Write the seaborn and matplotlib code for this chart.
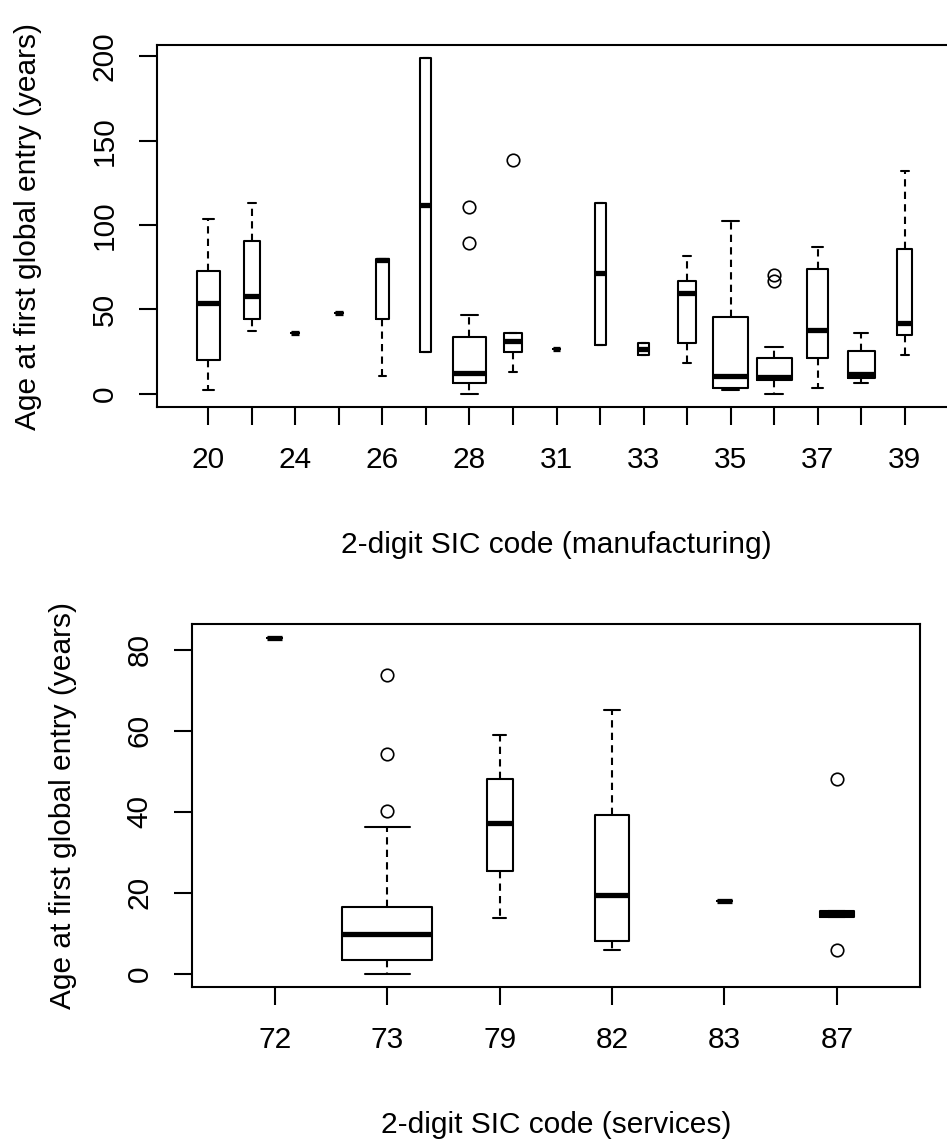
import numpy as np
import matplotlib.pyplot as plt
import matplotlib.transforms as mtransforms
import seaborn as sns

# 制造业 (manufacturing) 两位 SIC 码
mfg_codes = ["20", "22", "24", "25", "26", "27", "28", "30", "31",
             "32", "33", "34", "35", "36", "37", "38", "39"]
mfg_n = [9, 4, 1, 1, 3, 2, 18, 5, 1, 2, 2, 5, 20, 20, 7, 12, 4]
mfg_low = [2.4, 37, 35.7, 47.6, 10.7, 24.8, 0, 13.1, 26.2, 28.6, 22.6, 17.9, 2.4, 0, 3.6, 6, 22.6]
mfg_q1 = [20, 44, 35.7, 47.6, 44, 24.8, 6, 24.8, 26.2, 28.6, 22.6, 29.8, 3.6, 8.3, 21.4, 9.5, 34.5]
mfg_med = [54, 58, 35.7, 47.6, 79, 112, 12.3, 31.3, 26.2, 71.4, 26.2, 59.5, 10.7, 9.9, 38, 11.9, 41.7]
mfg_q3 = [73, 90.5, 35.7, 47.6, 79.8, 198.8, 33.7, 35.7, 26.2, 113, 29.8, 66.7, 45.6, 21.4, 73.8, 25, 85.7]
mfg_high = [103.6, 113, 35.7, 47.6, 79.8, 198.8, 46.4, 35.7, 26.2, 113, 29.8, 81.7, 102.4, 27.4, 86.9, 35.7, 132]
mfg_out = [[], [], [], [], [], [], [110.7, 89.3], [138.3], [], [], [], [], [], [70.4, 67], [], [], []]

# 服务业 (services)
svc_codes = ["72", "73", "79", "82", "83", "87"]
svc_n = [1, 36, 3, 5, 1, 5]
svc_low = [83, 0, 13.9, 6.0, 17.9, 14]
svc_q1 = [83, 3.5, 25.3, 8.0, 17.9, 14]
svc_med = [83, 9.9, 37.3, 19.4, 17.9, 15]
svc_q3 = [83, 16.4, 48.1, 39.2, 17.9, 15.5]
svc_high = [83, 36.2, 59.1, 65.1, 17.9, 15.5]
svc_out = [[], [73.9, 54.2, 40.3], [], [], [], [48.1, 6.0]]

W, H, DPI = 947, 1144, 100
FS = 21.5


def px_rect(l, t, r, b):
    return [l / W, 1 - b / H, (r - l) / W, (b - t) / H]


def r_boxplot(ax, codes, n, low, q1, med, q3, high, out, show_every=1):
    """仿 R boxplot(varwidth=TRUE) 风格"""
    k = len(codes)
    pos = np.arange(1, k + 1)
    widths = 0.8 * np.sqrt(np.array(n) / max(n))
    stats = []
    for i in range(k):
        stats.append(dict(whislo=low[i], q1=q1[i], med=med[i], q3=q3[i],
                          whishi=high[i], fliers=np.array(out[i])))
    lw = 1.5
    ax.bxp(stats, positions=pos, widths=widths, capwidths=0.5 * widths,
           showfliers=True, manage_ticks=False,
           boxprops=dict(color="black", linewidth=lw),
           medianprops=dict(color="black", linewidth=3.8, solid_capstyle="butt"),
           whiskerprops=dict(color="black", linewidth=lw, linestyle=(0, (3.5, 2.5))),
           capprops=dict(color="black", linewidth=lw),
           flierprops=dict(marker="o", markerfacecolor="none", markeredgecolor="black",
                           markersize=9, markeredgewidth=1.2))
    ax.set_xlim(0.5 - 0.04 * k, k + 0.5 + 0.04 * k)
    vals = low + q1 + high + sum(out, [])
    lo, hi = min(vals), max(vals)
    ax.set_ylim(lo - 0.04 * (hi - lo), hi + 0.04 * (hi - lo))
    ax.set_xticks(pos)
    ax.set_xticklabels([c if i % show_every == 0 else "" for i, c in enumerate(codes)])
    for s in ax.spines.values():
        s.set_visible(True)
        s.set_color("black")
        s.set_linewidth(1.5)
    ax.tick_params(axis="both", direction="out", length=13, width=1.5, color="black",
                   labelsize=FS, labelcolor="black")
    ax.tick_params(axis="x", pad=15)
    ax.tick_params(axis="y", pad=14.4)
    ax.grid(False)


def style_labels(ax, fig, xlabel, ylabel, xlab_y, ylab_x, yticks):
    ax.set_yticks(yticks)
    for t in ax.get_yticklabels():
        t.set_rotation(90)
        t.set_va("center")
        t.set_ha("right")
    ax.set_xlabel(xlabel, fontsize=FS, color="black")
    ax.set_ylabel(ylabel, fontsize=FS, color="black")
    ax.xaxis.label.set_va("center")
    ax.yaxis.label.set_va("center")
    tx = mtransforms.blended_transform_factory(ax.transAxes, fig.transFigure)
    ty = mtransforms.blended_transform_factory(fig.transFigure, ax.transAxes)
    ax.xaxis.set_label_coords(0.5, 1 - xlab_y / H, transform=tx)
    ax.yaxis.set_label_coords(ylab_x / W, 0.5, transform=ty)


sns.set_theme(style="ticks")
plt.rcParams["font.family"] = ["Liberation Sans", "DejaVu Sans"]

fig = plt.figure(figsize=(W / DPI, H / DPI), dpi=DPI)
fig.patch.set_facecolor("white")

ax1 = fig.add_axes(px_rect(157, 45, 956, 407))
r_boxplot(ax1, mfg_codes, mfg_n, mfg_low, mfg_q1, mfg_med, mfg_q3, mfg_high, mfg_out, show_every=2)
style_labels(ax1, fig, "2-digit SIC code (manufacturing)", "Age at first global entry (years)",
             545, 28, [0, 50, 100, 150, 200])

ax2 = fig.add_axes(px_rect(191.7, 624.3, 920, 987.3))
r_boxplot(ax2, svc_codes, svc_n, svc_low, svc_q1, svc_med, svc_q3, svc_high, svc_out)
style_labels(ax2, fig, "2-digit SIC code (services)", "Age at first global entry (years)",
             1125, 63, [0, 20, 40, 60, 80])

fig.savefig("out.png", dpi=DPI, facecolor="white")
